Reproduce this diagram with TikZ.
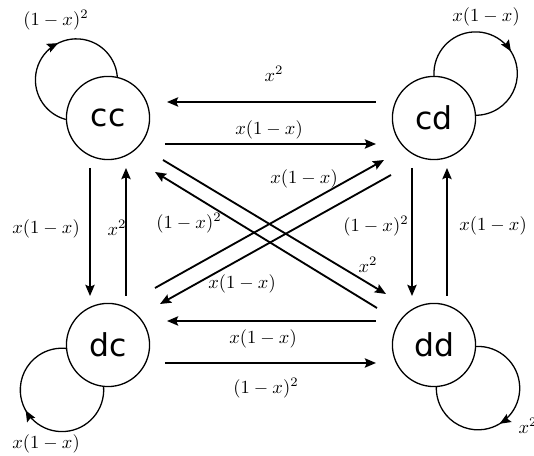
\documentclass[tikz,border=0pt]{standalone}
\usepackage{amsmath}
\usepackage{fontspec}
\newfontfamily\statefont{DejaVu Sans}
\usepackage{tikz}
\usetikzlibrary{arrows.meta, calc, decorations.markings}

\begin{document}
\begin{tikzpicture}[
      x=0.019cm, y=0.019cm,
      state/.style={circle, draw, line width=0.7pt, minimum size=1.58cm, inner sep=0pt,
        font=\statefont\fontsize{17}{20}\selectfont},
      arr/.style={-{Stealth[length=6pt, width=5pt, inset=1pt]}, line width=1pt},
      loopline/.style={line width=0.7pt, postaction={decorate},
        decoration={markings, mark=at position 0.55 with {\arrow{Stealth[length=6pt, width=5pt, inset=1pt]}}}},
      lbl/.style={inner sep=1pt}
    ]
      \useasboundingbox (0,0) rectangle (534,456);

      \node[state] (cc) at (108,338) {cc};
      \node[state] (cd) at (434,338) {cd};
      \node[state] (dc) at (108,111) {dc};
      \node[state] (dd) at (434,111) {dd};

      \draw[loopline] (cc.182) arc[start angle=255, end angle=3, radius=41];
      \draw[loopline] (cd.90) arc[start angle=183, end angle=-91, radius=41.7];
      \draw[loopline] (dc.264) arc[start angle=4, end angle=-277, radius=41.7];
      \draw[loopline] (dd.358) arc[start angle=92.5, end angle=-182.5, radius=41.7];

      \draw[arr] ($(cd)+(-58,16)$) -- ($(cc)+(59,16)$);
      \draw[arr] ($(cc)+(57,-26)$) -- ($(cd)+(-58,-26)$);
      \draw[arr] ($(dd)+(-58,24)$) -- ($(dc)+(59,24)$);
      \draw[arr] ($(dc)+(57,-18)$) -- ($(dd)+(-58,-18)$);

      \draw[arr] ($(cc)+(-18,-50)$) -- ($(dc)+(-18,49)$);
      \draw[arr] ($(dc)+(18,49)$) -- ($(cc)+(18,-50)$);
      \draw[arr] ($(cd)+(-22,-50)$) -- ($(dd)+(-22,49)$);
      \draw[arr] ($(dd)+(13,49)$) -- ($(cd)+(13,-50)$);

      \draw[arr] ($(cc)+(55,-42)$) -- ($(dd)+(-48,51)$);
      \draw[arr] ($(dd)+(-57,37)$) -- ($(cc)+(47,-54)$);
      \draw[arr] ($(dc)+(47,57)$) -- ($(cd)+(-50,-42)$);
      \draw[arr] ($(cd)+(-43,-57)$) -- ($(dc)+(52,41)$);

      \node[lbl] (l-cc) at (56,436) {$(1-x)^2$};
      \node[lbl] (l-cd) at (486,439) {$x(1-x)$};
      \node[lbl] (l-dc) at (46,12) {$x(1-x)$};
      \node[lbl] (l-dd) at (528,30) {$x^2$};

      \node[lbl] (l-cdcc) at (274,382) {$x^2$};
      \node[lbl] (l-cccd) at (269,326) {$x(1-x)$};
      \node[lbl] (l-dddc) at (263,117) {$x(1-x)$};
      \node[lbl] (l-dcdd) at (266,68) {$(1-x)^2$};

      \node[lbl] (l-ccdc) at (46,227) {$x(1-x)$};
      \node[lbl] (l-dccc) at (117,228) {$x^2$};
      \node[lbl] (l-cddd) at (376,230) {$(1-x)^2$};
      \node[lbl] (l-ddcd) at (493,230) {$x(1-x)$};

      \node[lbl] (l-dccd) at (304,277) {$x(1-x)$};
      \node[lbl] (l-ddcc) at (189,233) {$(1-x)^2$};
      \node[lbl] (l-ccdd) at (368,191) {$x^2$};
      \node[lbl] (l-cddc) at (242,172) {$x(1-x)$};
    \end{tikzpicture}
\end{document}
